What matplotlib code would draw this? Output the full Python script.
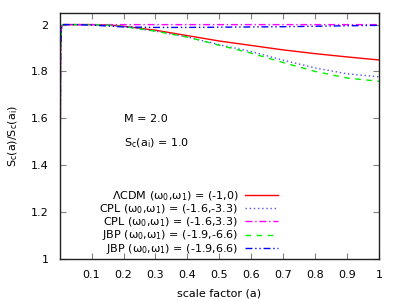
import numpy as np
import matplotlib
matplotlib.use('agg')
import matplotlib.pyplot as plt

# scale factor samples and S_c(a)/S_c(a_i)
a = [0.001, 0.003, 0.006, 0.01, 0.05, 0.1, 0.15, 0.2, 0.3, 0.4, 0.5,
     0.6, 0.7, 0.8, 0.9, 1.0]
lcdm = [1.0, 1.9, 1.99, 2.0, 2.0, 2.0, 1.999, 1.993, 1.976, 1.953, 1.930,
        1.911, 1.892, 1.876, 1.862, 1.849]
cpl_neg = [1.0, 1.9, 1.99, 2.0, 2.0, 2.0, 1.998, 1.992, 1.972, 1.947, 1.914,
           1.885, 1.848, 1.815, 1.790, 1.777]
cpl_pos = [1.0, 1.9, 1.99, 2.0, 2.0, 2.0, 2.0, 2.0, 2.0, 2.0, 2.0,
           2.0, 2.0, 2.0, 2.0, 2.0]
jbp_neg = [1.0, 1.9, 1.99, 2.0, 2.0, 2.0, 1.998, 1.992, 1.972, 1.947, 1.912,
           1.878, 1.838, 1.800, 1.772, 1.758]
jbp_pos = [1.0, 1.9, 1.99, 2.0, 2.0, 1.998, 1.994, 1.990, 1.988, 1.988, 1.989,
           1.990, 1.991, 1.993, 1.995, 1.997]

labels = [r'$\Lambda$CDM ($\omega_0$,$\omega_1$) = (-1,0)',
          r'CPL ($\omega_0$,$\omega_1$) = (-1.6,-3.3)',
          r'CPL ($\omega_0$,$\omega_1$) = (-1.6,3.3)',
          r'JBP ($\omega_0$,$\omega_1$) = (-1.9,-6.6)',
          r'JBP ($\omega_0$,$\omega_1$) = (-1.9,6.6)']

plt.rcParams['font.family'] = 'DejaVu Sans'
plt.rcParams['mathtext.fontset'] = 'dejavusans'
plt.rcParams['mathtext.default'] = 'regular'
plt.rcParams['font.size'] = 8

fig = plt.figure(figsize=(4, 3), dpi=100)
ax = fig.add_axes([0.149, 0.137, 0.799, 0.82])

ax.plot(a, lcdm, color='#ff0000', lw=1, label=labels[0])
ax.plot(a, cpl_neg, color='#5050ff', lw=1, ls=(0, (1, 2)), label=labels[1])
ax.plot(a, cpl_pos, color='#ff00ff', lw=1, ls=(0, (5, 2, 1, 2)), label=labels[2])
ax.plot(a, jbp_neg, color='#00ee00', lw=1, ls=(0, (4, 4)), label=labels[3])
ax.plot(a, jbp_pos, color='#0000ff', lw=1, ls=(0, (5, 2, 1, 2, 1, 2)), label=labels[4])

ax.set_xlim(0, 1)
ax.set_ylim(1, 2.05)
ax.set_xticks(np.arange(0.1, 1.01, 0.1))
ax.set_xticklabels(['0.1', '0.2', '0.3', '0.4', '0.5', '0.6', '0.7', '0.8', '0.9', '1'])
ax.set_yticks([1, 1.2, 1.4, 1.6, 1.8, 2])
ax.set_yticklabels(['1', '1.2', '1.4', '1.6', '1.8', '2'])
ax.tick_params(direction='in', top=True, right=True, length=4, width=0.8,
               color='#808080', pad=8)
for s in ax.spines.values():
    s.set_linewidth(1)
    s.set_color('#202020')

ax.set_xlabel('scale factor (a)', labelpad=6)
ax.set_ylabel(r'S$_c$(a)/S$_c$(a$_i$)', labelpad=8)

ax.text(0.2, 0.57, 'M = 2.0', transform=ax.transAxes, va='center')
ax.text(0.2, 0.47, r'S$_c$(a$_i$) = 1.0', transform=ax.transAxes, va='center')

leg = ax.legend(loc='lower right', bbox_to_anchor=(0.705, -0.015), frameon=False,
                markerfirst=False, handlelength=3.0, labelspacing=-0.05,
                handletextpad=0.6, borderaxespad=0.2)
for t in leg.get_texts():
    t.set_ha('right')
leg._legend_box.align = 'right'

fig.savefig('out.png', dpi=100)
